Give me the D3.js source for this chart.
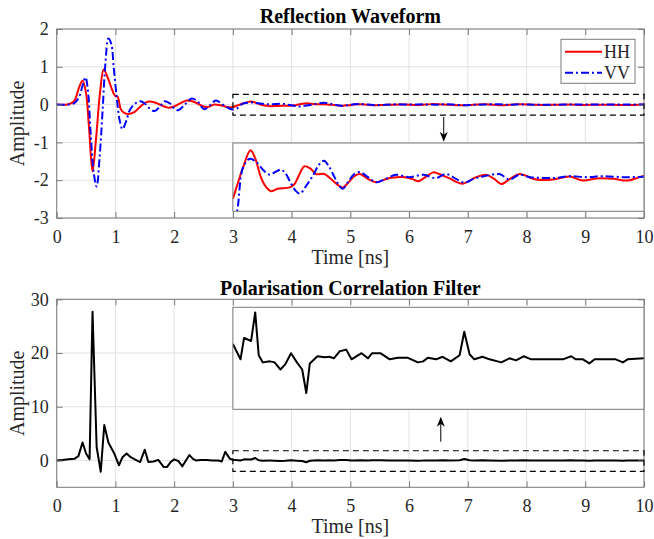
<!DOCTYPE html>
<html>
<head>
<meta charset="utf-8">
<script src="https://cdn.jsdelivr.net/npm/d3@7"></script>
<style>
  body { margin: 0; background: #fff; }
  svg { display: block; font-family: "Liberation Serif", "Times New Roman", serif; }
</style>
</head>
<body>
<svg id="chart" width="654" height="539"></svg>
<script>
const xTicks = [0, 1, 2, 3, 4, 5, 6, 7, 8, 9, 10];
const waveTicks = [-3, -2, -1, 0, 1, 2];
const filterTicks = [0, 10, 20, 30];
const legendNames = ["HH", "VV"];

// HH reflection (red)
const hhTime = [0, 0.2, 0.3, 0.38, 0.44, 0.5, 0.55, 0.61, 0.67, 0.74, 0.8, 0.86, 0.93, 0.99, 1.04, 1.09, 1.15, 1.22, 1.32, 1.42,
  1.52, 1.6, 1.7, 1.8, 1.9, 2.0, 2.1, 2.21, 2.3, 2.4, 2.5, 2.58, 2.68, 2.8, 2.92, 3.0, 3.08, 3.17, 3.3, 3.38,
  3.48, 3.57, 3.65, 3.76, 3.97, 4.05, 4.11, 4.22, 4.32, 4.42, 4.56, 4.68, 4.78, 4.87, 4.97, 5.06, 5.16, 5.3, 5.44, 5.57,
  5.7, 5.93, 6.05, 6.15, 6.28, 6.41, 6.5, 6.68, 6.91, 7.14, 7.31, 7.45, 7.57, 7.72, 7.88, 8.16, 8.45, 8.73, 8.96, 9.19,
  9.48, 9.72, 9.98, 10];
const hhAmp = [0, 0.01, 0.1, 0.45, 0.63, 0.3, -0.6, -1.77, -0.9, 0.35, 0.93, 0.75, 0.45, 0.24, 0.2, -0.12, -0.22, -0.25, -0.2, -0.06,
  0.06, 0.08, 0.04, -0.03, -0.08, -0.05, 0.03, 0.11, 0.09, 0.03, -0.05, -0.06, 0, -0.02, -0.07, -0.063, -0.02, 0.027, 0.079, 0.055,
  -0.002, -0.03, -0.041, -0.034, -0.03, -0.02, 0, 0.032, 0.025, 0.009, 0.009, -0.007, -0.022, -0.03, -0.015, 0.002, 0.009, -0.005, -0.015, -0.008,
  -0.002, 0, -0.005, -0.012, 0, 0.014, 0.01, -0.003, -0.019, 0, 0.007, -0.005, -0.02, -0.005, 0.009, -0.007, -0.007, 0.002, -0.01, -0.004,
  -0.005, -0.01, 0.003, 0.003];

// VV reflection (blue)
const vvTime = [0, 0.2, 0.3, 0.38, 0.44, 0.49, 0.53, 0.58, 0.63, 0.68, 0.73, 0.78, 0.83, 0.88, 0.93, 0.97, 1.02, 1.07, 1.12, 1.18,
  1.25, 1.33, 1.42, 1.5, 1.58, 1.67, 1.76, 1.84, 1.93, 2.0, 2.07, 2.18, 2.3, 2.4, 2.51, 2.61, 2.71, 2.83, 2.95, 3.0,
  3.07, 3.17, 3.29, 3.4, 3.52, 3.63, 3.72, 3.82, 3.9, 3.97, 4.06, 4.14, 4.25, 4.37, 4.46, 4.55, 4.64, 4.73, 4.8, 4.87,
  4.97, 5.06, 5.16, 5.3, 5.44, 5.6, 5.78, 6.0, 6.25, 6.45, 6.63, 6.8, 6.94, 7.1, 7.26, 7.54, 7.71, 7.88, 8.05, 8.22,
  8.5, 8.73, 9.02, 9.3, 9.64, 9.98, 10];
const vvAmp = [0, 0, 0.04, 0.2, 0.5, 0.72, 0.4, -0.8, -1.8, -2.17, -1.4, -0.2, 1.1, 1.75, 1.6, 1.0, 0.22, -0.4, -0.65, -0.45,
  -0.13, 0.02, 0.09, 0.03, -0.1, -0.17, -0.05, 0.09, 0.03, -0.1, -0.15, 0, 0.16, 0.08, -0.12, -0.02, 0.11, 0, -0.11, -0.13,
  -0.1, 0.027, 0.054, 0.044, 0.02, 0.007, 0.015, 0.022, 0.01, -0.012, -0.038, -0.048, -0.025, 0.007, 0.035, 0.048, 0.03, 0, -0.022, -0.034,
  -0.012, 0.008, 0.015, 0, -0.015, -0.005, 0.007, 0, 0.007, -0.003, 0.009, -0.005, -0.016, -0.005, 0.002, 0.009, -0.007, 0.007, 0, -0.002,
  -0.002, 0.003, 0, 0.003, 0, 0.001, 0.001];

// polarisation correlation filter output (black)
const pcfTime = [0, 0.1, 0.2, 0.3, 0.37, 0.44, 0.5, 0.56, 0.61, 0.68, 0.75, 0.81, 0.88, 0.98, 1.06, 1.12, 1.19, 1.26, 1.33, 1.42,
  1.5, 1.56, 1.65, 1.73, 1.82, 1.88, 1.94, 2.0, 2.07, 2.14, 2.2, 2.26, 2.32, 2.37, 2.45, 2.55, 2.65, 2.75, 2.81, 2.87,
  2.95, 3.0, 3.13, 3.19, 3.31, 3.38, 3.44, 3.51, 3.63, 3.71, 3.81, 3.89, 3.99, 4.09, 4.18, 4.25, 4.31, 4.44, 4.56, 4.64,
  4.72, 4.82, 4.93, 5.02, 5.19, 5.3, 5.37, 5.51, 5.67, 5.81, 5.98, 6.15, 6.24, 6.32, 6.46, 6.57, 6.71, 6.86, 6.94, 7.03,
  7.11, 7.25, 7.37, 7.57, 7.71, 7.82, 7.95, 8.08, 8.33, 8.62, 8.76, 8.84, 8.96, 9.07, 9.16, 9.52, 9.64, 9.72, 10];
const pcfAmp = [0, 0.1, 0.2, 0.3, 0.8, 3.35, 1.3, 0.25, 27.7, 2.5, -2.1, 6.6, 3.35, 1.3, -0.9, 0.6, 1.3, 0.6, 0.2, -0.3,
  2.0, -0.3, -0.2, 0.1, -1.2, -1.2, -0.3, 0.2, -0.1, -1.1, 0, 1.0, 0.3, 0, 0.1, 0.1, 0, 0, -0.2, 1.6,
  0.3, 0.14, -0.01, 0.2, 0.17, 0.45, 0.03, -0.04, -0.03, -0.04, -0.11, -0.06, 0.05, -0.04, -0.11, -0.34, -0.05, 0.02, 0.01, 0.015,
  0, 0.07, 0.085, -0.01, 0.05, 0, 0.05, 0.05, -0.01, 0.005, 0.005, -0.04, -0.03, 0.005, -0.01, 0.015, -0.03, 0.03, 0.26, 0.04,
  -0.01, 0.015, -0.01, -0.04, 0, -0.02, 0.02, -0.01, -0.01, -0.01, 0.02, -0.01, -0.01, -0.05, -0.01, -0.01, -0.04, -0.01, 0];

const toPoints = (times, values) => times.map((t, i) => ({ t, v: values[i] }));
const hh = toPoints(hhTime, hhAmp);
const vv = toPoints(vvTime, vvAmp);
const pcf = toPoints(pcfTime, pcfAmp);

const svg = d3.select("#chart");
const gridColor = "#e2e2e2";
const boxColor = "#7a7a7a";
const textColor = "#262626";

const x = d3.scaleLinear().domain([0, 10]).range([56.7, 644]);

const hhStyle = { stroke: "#ff0000", width: 2, dash: null };
const vvStyle = { stroke: "#0000ff", width: 2, dash: "8,3,2,3" };
const pcfStyle = { stroke: "#000000", width: 2, dash: null };

const wavePanel = {
  id: "wave",
  top: 29,
  bottom: 218,
  domain: [-3, 2],
  ticks: waveTicks,
  title: "Reflection Waveform",
  titleY: 23,
  labelY: 264,
  curve: d3.curveCatmullRom.alpha(0.5),
  series: [
    { data: hh, style: hhStyle },
    { data: vv, style: vvStyle },
  ],
  band: [-0.28, 0.27],
  inset: { top: 143, bottom: 211.3, domain: [-0.1, 0.1] },
  arrow: { t: 6.59, from: 117, to: 141.7 },
};

const filterPanel = {
  id: "filter",
  top: 299.3,
  bottom: 487.3,
  domain: [-5, 30],
  ticks: filterTicks,
  title: "Polarisation Correlation Filter",
  titleY: 295,
  labelY: 533,
  curve: d3.curveLinear,
  series: [{ data: pcf, style: pcfStyle }],
  band: [-2.05, 1.8],
  inset: { top: 307.3, bottom: 409.3, domain: [-0.5, 0.5] },
  arrow: { t: 6.54, from: 441.7, to: 416.7 },
};

function styleAxis(sel) {
  sel.select(".domain").remove();
  sel.selectAll(".tick line").attr("stroke", boxColor);
  sel.selectAll("text")
    .attr("fill", textColor)
    .attr("font-size", 18)
    .attr("font-family", "Liberation Serif, Times New Roman, serif");
}

function drawLines(g, series, y, curve, clipId) {
  const line = d3.line().x((d) => x(d.t)).y((d) => y(d.v)).curve(curve);
  series.forEach((s) => {
    g.append("path")
      .datum(s.data)
      .attr("clip-path", `url(#${clipId})`)
      .attr("fill", "none")
      .attr("stroke", s.style.stroke)
      .attr("stroke-width", s.style.width)
      .attr("stroke-linejoin", "round")
      .attr("stroke-dasharray", s.style.dash)
      .attr("d", line);
  });
}

function addClip(id, x0, y0, x1, y1) {
  svg.append("clipPath").attr("id", id)
    .append("rect").attr("x", x0).attr("y", y0).attr("width", x1 - x0).attr("height", y1 - y0);
}

function drawArrow(g, ax, from, to) {
  const dir = to > from ? 1 : -1;
  const headLen = 10;
  g.append("line")
    .attr("x1", ax).attr("x2", ax)
    .attr("y1", from).attr("y2", to - dir * 6)
    .attr("stroke", "#000").attr("stroke-width", 1);
  g.append("path")
    .attr("d", `M${ax},${to} L${ax - 4},${to - dir * headLen} L${ax},${to - dir * 7} L${ax + 4},${to - dir * headLen} Z`)
    .attr("fill", "#000");
}

function drawPanel(p) {
  const y = d3.scaleLinear().domain(p.domain).range([p.bottom, p.top]);
  const [x0, x1] = x.range();
  const g = svg.append("g").attr("class", `panel-${p.id}`);

  // grid
  g.append("g").selectAll("line").data(xTicks).join("line")
    .attr("x1", (d) => x(d)).attr("x2", (d) => x(d))
    .attr("y1", p.top).attr("y2", p.bottom)
    .attr("stroke", gridColor);
  g.append("g").selectAll("line").data(p.ticks).join("line")
    .attr("x1", x0).attr("x2", x1)
    .attr("y1", (d) => y(d)).attr("y2", (d) => y(d))
    .attr("stroke", gridColor);

  addClip(`clip-${p.id}`, x0, p.top, x1, p.bottom);
  drawLines(g, p.series, y, p.curve, `clip-${p.id}`);

  // axes (ticks point inward, MATLAB style)
  g.append("g").attr("transform", `translate(0,${p.bottom})`)
    .call(d3.axisBottom(x).tickValues(xTicks).tickFormat((d) => String(d)).tickSizeInner(-6).tickSizeOuter(0).tickPadding(12))
    .call(styleAxis);
  g.append("g").attr("transform", `translate(0,${p.top})`)
    .call(d3.axisTop(x).tickValues(xTicks).tickFormat(() => "").tickSizeInner(-6).tickSizeOuter(0))
    .call(styleAxis);
  g.append("g").attr("transform", `translate(${x0},0)`)
    .call(d3.axisLeft(y).tickValues(p.ticks).tickFormat((d) => String(d)).tickSizeInner(-6).tickSizeOuter(0).tickPadding(8))
    .call(styleAxis);
  g.append("g").attr("transform", `translate(${x1},0)`)
    .call(d3.axisRight(y).tickValues(p.ticks).tickFormat(() => "").tickSizeInner(-6).tickSizeOuter(0))
    .call(styleAxis);

  g.append("rect")
    .attr("x", x0).attr("y", p.top)
    .attr("width", x1 - x0).attr("height", p.bottom - p.top)
    .attr("fill", "none").attr("stroke", boxColor);

  // dashed zoom band from 3 ns onwards
  g.append("rect")
    .attr("x", x(3)).attr("y", y(p.band[1]))
    .attr("width", x(10) - x(3)).attr("height", y(p.band[0]) - y(p.band[1]))
    .attr("fill", "none").attr("stroke", "#000")
    .attr("stroke-width", 1.2).attr("stroke-dasharray", "6,4");

  // inset: same series from 3 ns, stretched vertically
  const inset = p.inset;
  const yIn = d3.scaleLinear().domain(inset.domain).range([inset.bottom, inset.top]);
  g.append("rect")
    .attr("x", x(3)).attr("y", inset.top)
    .attr("width", x(10) - x(3)).attr("height", inset.bottom - inset.top)
    .attr("fill", "#fff");
  addClip(`clip-inset-${p.id}`, x(3), inset.top, x(10), inset.bottom);
  const insetSeries = p.series.map((s) => ({ ...s, data: s.data.filter((d) => d.t >= 3) }));
  drawLines(g, insetSeries, yIn, p.curve, `clip-inset-${p.id}`);
  g.append("rect")
    .attr("x", x(3)).attr("y", inset.top)
    .attr("width", x(10) - x(3)).attr("height", inset.bottom - inset.top)
    .attr("fill", "none").attr("stroke", boxColor);

  drawArrow(g, x(p.arrow.t), p.arrow.from, p.arrow.to);

  // labels
  g.append("text")
    .attr("x", (x0 + x1) / 2).attr("y", p.titleY)
    .attr("text-anchor", "middle")
    .attr("font-size", 20).attr("font-weight", "bold")
    .text(p.title);
  g.append("text")
    .attr("x", (x0 + x1) / 2).attr("y", p.labelY)
    .attr("text-anchor", "middle")
    .attr("font-size", 20).attr("fill", textColor)
    .text("Time [ns]");
  g.append("text")
    .attr("transform", `translate(24,${(p.top + p.bottom) / 2}) rotate(-90)`)
    .attr("text-anchor", "middle")
    .attr("font-size", 20).attr("fill", textColor)
    .text("Amplitude");

  return g;
}

const waveG = drawPanel(wavePanel);
drawPanel(filterPanel);

// legend for the reflection panel
const legend = waveG.append("g").attr("class", "legend");
legend.append("rect")
  .attr("x", 561).attr("y", 39.3).attr("width", 74).attr("height", 44)
  .attr("fill", "#fff").attr("stroke", boxColor);
[hhStyle, vvStyle].forEach((style, i) => {
  const ly = 51.7 + i * 21;
  legend.append("line")
    .attr("x1", 565).attr("x2", 602).attr("y1", ly).attr("y2", ly)
    .attr("stroke", style.stroke).attr("stroke-width", style.width)
    .attr("stroke-dasharray", style.dash);
  legend.append("text")
    .attr("x", 604).attr("y", ly + 6.5)
    .attr("font-size", 18).attr("fill", textColor)
    .text(legendNames[i]);
});
</script>
</body>
</html>
